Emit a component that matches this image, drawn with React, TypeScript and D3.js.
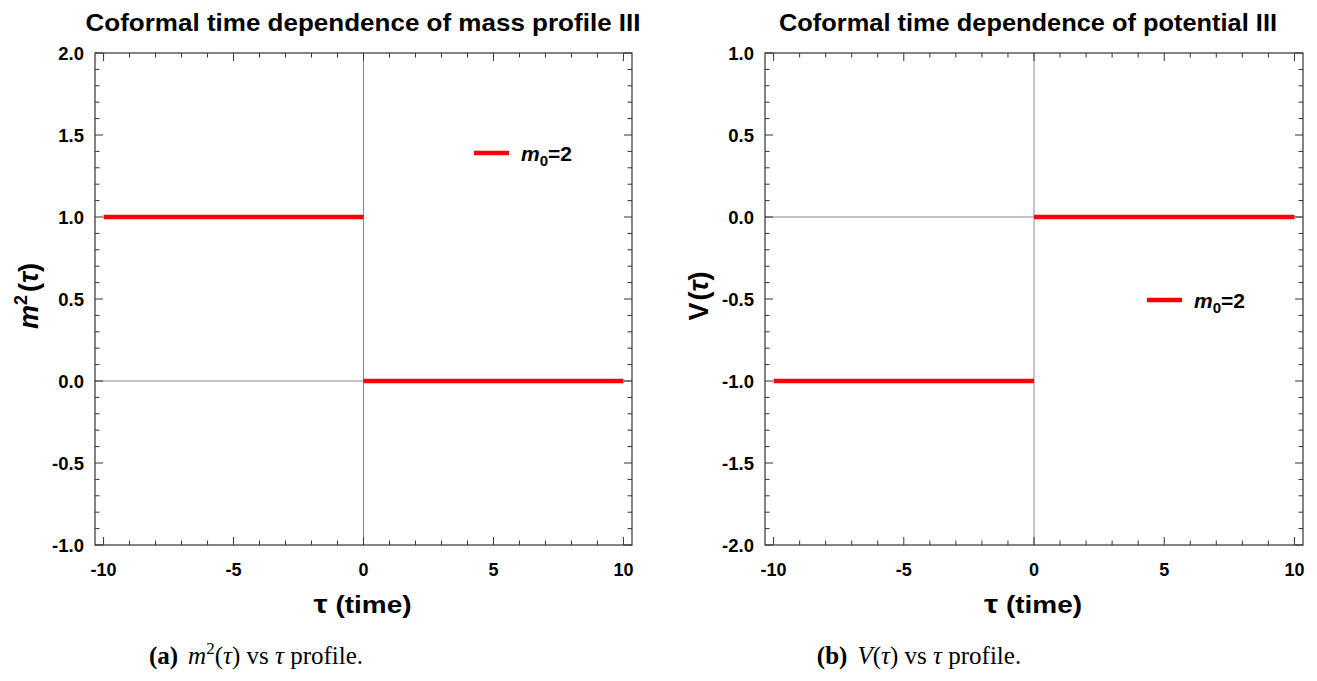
import React from "react";
import * as d3 from "d3";

// ---- data ----
const tauNeg = [-10, 0];
const tauPos = [0, 10];
const massNeg = [1, 1];
const massPos = [0, 0];
const potNeg = [-1, -1];
const potPos = [0, 0];

const xTicks = [-10, -5, 0, 5, 10];
const massTicks = [-1, -0.5, 0, 0.5, 1, 1.5, 2];
const potTicks = [-2, -1.5, -1, -0.5, 0, 0.5, 1];

const W = 1317;
const H = 681;
const FONT = "'Liberation Sans', Arial, sans-serif";
const SERIF = "'Liberation Serif', 'DejaVu Serif', serif";
const RED = "#ff0000";

type PanelProps = {
  left: number;
  right: number;
  top: number;
  bottom: number;
  yDomain: [number, number];
  yTicks: number[];
  segments: { x: number[]; y: number[] }[];
  title: string;
  titleX: number;
  titleLen: number;
  yLabel: React.ReactNode;
  legendPos: [number, number];
};

function fmt(v: number) {
  return v.toFixed(1);
}

function Panel(p: PanelProps) {
  const x = d3.scaleLinear().domain([-10.33, 10.33]).range([p.left, p.right]);
  const y = d3.scaleLinear().domain(p.yDomain).range([p.bottom, p.top]);
  const line = d3
    .line<[number, number]>()
    .x((d) => x(d[0]))
    .y((d) => y(d[1]));
  const xMinor = d3.range(-10, 10.001, 1).filter((v) => Math.abs(v % 5) > 1e-6);
  const yMinor = d3
    .range(p.yDomain[0], p.yDomain[1] + 1e-6, 0.1)
    .filter((v) => Math.abs(Math.round(v * 10) % 5) !== 0);
  const maj = 8;
  const min = 4.5;
  const tc = "#333";
  const cy = (p.top + p.bottom) / 2;
  return (
    <g>
      <text
        x={p.titleX - p.titleLen / 2}
        y={31}
        textLength={p.titleLen}
        lengthAdjust="spacingAndGlyphs"
        fontFamily={FONT}
        fontWeight="bold"
        fontSize={24.5}
        fill="#000"
      >
        {p.title}
      </text>
      {/* zero axes */}
      <line x1={x(0)} x2={x(0)} y1={p.top} y2={p.bottom} stroke="#888" strokeWidth={1} />
      <line x1={p.left} x2={p.right} y1={y(0)} y2={y(0)} stroke="#888" strokeWidth={1} />
      {/* frame */}
      <rect
        x={p.left}
        y={p.top}
        width={p.right - p.left}
        height={p.bottom - p.top}
        fill="none"
        stroke={tc}
        strokeWidth={1.2}
      />
      {/* x ticks */}
      {xTicks.map((v) => (
        <g key={"xm" + v}>
          <line x1={x(v)} x2={x(v)} y1={p.bottom} y2={p.bottom - maj} stroke={tc} />
          <line x1={x(v)} x2={x(v)} y1={p.top} y2={p.top + maj} stroke={tc} />
          <text
            x={x(v)}
            y={p.bottom + 31}
            textAnchor="middle"
            fontFamily={FONT}
            fontWeight="bold"
            fontSize={18}
          >
            {v}
          </text>
        </g>
      ))}
      {xMinor.map((v) => (
        <g key={"xn" + v}>
          <line x1={x(v)} x2={x(v)} y1={p.bottom} y2={p.bottom - min} stroke={tc} />
          <line x1={x(v)} x2={x(v)} y1={p.top} y2={p.top + min} stroke={tc} />
        </g>
      ))}
      {/* y ticks */}
      {p.yTicks.map((v) => (
        <g key={"ym" + v}>
          <line x1={p.left} x2={p.left + maj} y1={y(v)} y2={y(v)} stroke={tc} />
          <line x1={p.right} x2={p.right - maj} y1={y(v)} y2={y(v)} stroke={tc} />
          <text
            x={p.left - 11}
            y={y(v) + 7}
            textAnchor="end"
            fontFamily={FONT}
            fontWeight="bold"
            fontSize={18.5}
          >
            {fmt(v)}
          </text>
        </g>
      ))}
      {yMinor.map((v, i) => (
        <g key={"yn" + i}>
          <line x1={p.left} x2={p.left + min} y1={y(v)} y2={y(v)} stroke={tc} />
          <line x1={p.right} x2={p.right - min} y1={y(v)} y2={y(v)} stroke={tc} />
        </g>
      ))}
      {/* data */}
      {p.segments.map((s, i) => (
        <path
          key={"s" + i}
          d={line(s.x.map((xv, j) => [xv, s.y[j]] as [number, number])) || ""}
          stroke={RED}
          strokeWidth={4.5}
          fill="none"
        />
      ))}
      {/* legend */}
      <line
        x1={p.legendPos[0]}
        x2={p.legendPos[0] + 35}
        y1={p.legendPos[1]}
        y2={p.legendPos[1]}
        stroke={RED}
        strokeWidth={4.5}
      />
      <text
        x={p.legendPos[0] + 47}
        y={p.legendPos[1] + 8}
        fontFamily={FONT}
        fontWeight="bold"
        fontSize={21}
      >
        <tspan fontStyle="italic">m</tspan>
        <tspan fontSize={15} dy={5}>0</tspan>
        <tspan dy={-5}>=2</tspan>
      </text>
      {/* x label */}
      <text
        x={x(0) - 50}
        y={p.bottom + 68}
        textLength={98}
        lengthAdjust="spacingAndGlyphs"
        fontFamily={FONT}
        fontWeight="bold"
        fontSize={23}
      >
        <tspan fontSize={26}>τ</tspan> (time)
      </text>
      {/* y label */}
      <text
        transform={`translate(${p.left - 57},${cy - 3}) rotate(-90)`}
        textAnchor="middle"
        fontFamily={FONT}
        fontWeight="bold"
        fontSize={27}
      >
        {p.yLabel}
      </text>
    </g>
  );
}

export default function App() {
  return (
    <svg
      width={W}
      height={H}
      style={{ position: "absolute", left: 0, top: 0, background: "#fff" }}
    >
      <rect x={0} y={0} width={W} height={H} fill="#fff" />
      <Panel
        left={95}
        right={632}
        top={53}
        bottom={545}
        yDomain={[-1, 2]}
        yTicks={massTicks}
        segments={[
          { x: tauNeg, y: massNeg },
          { x: tauPos, y: massPos },
        ]}
        title="Coformal time dependence of mass profile III"
        titleX={363}
        titleLen={555}
        yLabel={
          <>
            <tspan fontStyle="italic">m</tspan>
            <tspan fontSize={18} dy={-11}>2</tspan>
            <tspan dy={11} dx={3}>(</tspan>
            <tspan fontStyle="italic">τ</tspan>
            <tspan>)</tspan>
          </>
        }
        legendPos={[474, 153]}
      />
      <Panel
        left={765}
        right={1303}
        top={53}
        bottom={545}
        yDomain={[-2, 1]}
        yTicks={potTicks}
        segments={[
          { x: tauNeg, y: potNeg },
          { x: tauPos, y: potPos },
        ]}
        title="Coformal time dependence of potential III"
        titleX={1028}
        titleLen={498}
        yLabel={
          <>
            <tspan>V</tspan>
            <tspan dx={2}>(</tspan>
            <tspan fontStyle="italic">τ</tspan>
            <tspan>)</tspan>
          </>
        }
        legendPos={[1147, 300]}
      />
      {/* captions */}
      <text x={256} y={664} textAnchor="middle" fontFamily={SERIF} fontSize={25}>
        <tspan fontWeight="bold">(a)</tspan>
        <tspan dx={10} fontStyle="italic">m</tspan>
        <tspan fontSize={17} dy={-10}>2</tspan>
        <tspan dy={10}>(</tspan>
        <tspan fontStyle="italic">τ</tspan>
        <tspan>) vs </tspan>
        <tspan fontStyle="italic">τ</tspan>
        <tspan> profile.</tspan>
      </text>
      <text x={919} y={664} textAnchor="middle" fontFamily={SERIF} fontSize={25}>
        <tspan fontWeight="bold">(b)</tspan>
        <tspan dx={10} fontStyle="italic">V</tspan>
        <tspan>(</tspan>
        <tspan fontStyle="italic">τ</tspan>
        <tspan>) vs </tspan>
        <tspan fontStyle="italic">τ</tspan>
        <tspan> profile.</tspan>
      </text>
    </svg>
  );
}
